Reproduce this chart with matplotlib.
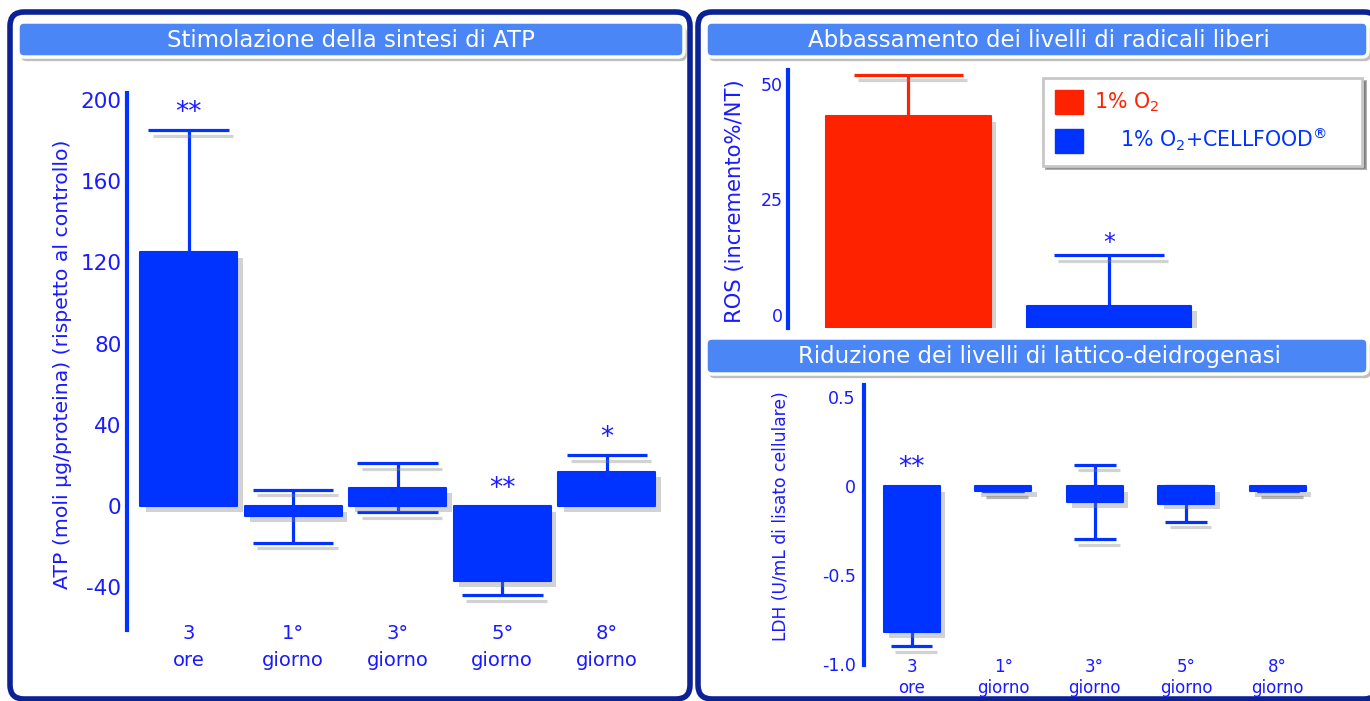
import matplotlib
matplotlib.use("Agg")
import matplotlib.pyplot as plt
import matplotlib.patheffects as pe
from matplotlib.patches import FancyBboxPatch, Patch

plt.rcParams['font.family'] = ['DejaVu Sans']
plt.rcParams['axes.unicode_minus'] = False

# ---- data ----
atp_labels = ["3\nore", "1°\ngiorno", "3°\ngiorno", "5°\ngiorno", "8°\ngiorno"]
atp_values = [125, -5, 9, -37, 17]
atp_errors = [60, 13, 12, 7, 8]
atp_stars = ["**", "", "", "**", "*"]
atp_ticks = [200, 160, 120, 80, 40, 0, -40]

ros_labels = ["1% O$_2$", "    1% O$_2$+CELLFOOD$^{\\circledR}$"]
ros_values = [43, 2]
ros_errors = [9, 11]
ros_stars = ["", "*"]
ros_ticks = [50, 25, 0]

ldh_labels = ["3\nore", "1°\ngiorno", "3°\ngiorno", "5°\ngiorno", "8°\ngiorno"]
ldh_values = [-0.82, -0.03, -0.09, -0.1, -0.03]
ldh_errors = [0.08, 0, 0.21, 0.1, 0]
ldh_stars = ["**", "", "", "", ""]
ldh_ticks = [0.5, 0, -0.5, -1.0]
ldh_ticklabels = ["0.5", "0", "-0.5", "-1.0"]

BLUE = "#0033ff"
TXT = "#1a1aff"
RED = "#ff2200"
NAVY = "#0b2196"
BAR_TITLE = "#4a86f6"

W, H = 1370, 701
fig = plt.figure(figsize=(W / 100, H / 100), dpi=100)
fig.patch.set_facecolor("white")


def px(l, t, r, b):
    return [l / W, 1 - b / H, (r - l) / W, (b - t) / H]


# background layer with frames and title bars
bg = fig.add_axes([0, 0, 1, 1], zorder=0)
bg.set_xlim(0, W)
bg.set_ylim(H, 0)
bg.axis("off")

for l, r in [(10, 690), (698, 1378)]:
    bg.add_patch(FancyBboxPatch((l, 12), r - l, 687, boxstyle="round,pad=0,rounding_size=14",
                                fc="white", ec=NAVY, lw=4))

shadow = [pe.SimplePatchShadow(offset=(2, -3), shadow_rgbFace="gray", alpha=0.5), pe.Normal()]
titles = [((18, 22, 684, 57), "Stimolazione della sintesi di ATP", 351),
          ((706, 22, 1368, 57), "Abbassamento dei livelli di radicali liberi", 1039),
          ((706, 338, 1368, 374), "Riduzione dei livelli di lattico-deidrogenasi", 1039)]
for (l, t, r, b), txt, cx in titles:
    p = FancyBboxPatch((l, t), r - l, b - t, boxstyle="round,pad=0,rounding_size=6",
                       fc=BAR_TITLE, ec="white", lw=2.5)
    p.set_path_effects(shadow)
    bg.add_patch(p)
    bg.text(cx, (t + b) / 2 + 1, txt, color="white", fontsize=16.5, ha="center", va="center")

bar_fx = [pe.SimplePatchShadow(offset=(4, -4), shadow_rgbFace="gray", alpha=0.35), pe.Normal()]
line_fx = [pe.SimpleLineShadow(offset=(3, -4), shadow_color="gray", alpha=0.35), pe.Normal()]


def style_axes(ax, tick_size):
    ax.patch.set_alpha(0)
    for s in ["top", "right", "bottom"]:
        ax.spines[s].set_visible(False)
    ax.spines["left"].set_color(BLUE)
    ax.spines["left"].set_linewidth(3)
    ax.spines["left"].set_path_effects(bar_fx)
    ax.tick_params(axis="both", length=0, colors=TXT, labelsize=tick_size)


def add_errorbars(ax, x, vals, errs, color, capsize):
    eb = ax.errorbar(x, vals, yerr=errs, fmt="none", ecolor=color, elinewidth=2.3,
                     capsize=capsize, capthick=2.3, zorder=2)
    for c in eb[1]:
        c.set_path_effects(line_fx)


# ---- ATP panel ----
ax1 = fig.add_axes(px(127, 93, 680, 630), zorder=1)
x1 = list(range(len(atp_values)))
add_errorbars(ax1, x1, atp_values, atp_errors, BLUE, 29)
bars = ax1.bar(x1, atp_values, width=0.93, color=BLUE, ec=BLUE, lw=1.5, joinstyle="round", zorder=3)
for b in bars:
    b.set_path_effects(bar_fx)
ax1.set_xlim(-0.59, 4.7)
ax1.set_ylim(-61, 203.4)
ax1.set_yticks(atp_ticks)
ax1.set_xticks(x1)
ax1.set_xticklabels(atp_labels)
style_axes(ax1, 15.5)
ax1.tick_params(axis="x", labelsize=14, pad=-4)
ax1.tick_params(axis="y", pad=4)
for t in ax1.get_xticklabels():
    t.set_linespacing(1.5)
ax1.set_ylabel("ATP (moli \u03bcg/proteina) (rispetto al controllo)", color=TXT, fontsize=14.7)
ax1.yaxis.set_label_coords(-0.0995, 0.495)
for xi, v, e, s in zip(x1, atp_values, atp_errors, atp_stars):
    if s:
        top = max(v + e, v, 0)
        ax1.text(xi, top + 5, s, ha="center", va="baseline", fontsize=19, color=TXT, zorder=4)

# ---- ROS panel ----
ax2 = fig.add_axes(px(788, 70, 1340, 328), zorder=1)
x2 = list(range(len(ros_values)))
ros_colors = [RED, BLUE]
ros_floor = -2.8
for xi, v, e, c in zip(x2, ros_values, ros_errors, ros_colors):
    add_errorbars(ax2, [xi], [v], [e], c, 39.5)
bars = ax2.bar(x2, [v - ros_floor for v in ros_values], bottom=ros_floor, width=0.82,
               color=ros_colors, ec=ros_colors, lw=1.5, joinstyle="round", zorder=3)
for b in bars:
    b.set_path_effects(bar_fx)
ax2.set_xlim(-0.6, 2.15)
ax2.set_ylim(ros_floor, 53)
ax2.set_yticks(ros_ticks)
ax2.set_xticks([])
style_axes(ax2, 12.5)
ax2.set_ylabel("ROS (incremento%/NT)", color=TXT, fontsize=15.2)
ax2.yaxis.set_label_coords(-0.078, 0.49)
for xi, v, e, s in zip(x2, ros_values, ros_errors, ros_stars):
    if s:
        ax2.text(xi, v + e + 1, s, ha="center", va="baseline", fontsize=17, color=TXT, zorder=4)
leg = ax2.legend(handles=[Patch(fc=c, ec=c) for c in ros_colors], labels=ros_labels,
                 loc="upper left", bbox_to_anchor=(1043 / W, 1 - 165 / H, 319 / W, 87 / H),
                 bbox_transform=fig.transFigure, mode="expand", borderaxespad=0, fontsize=14.8,
                 handlelength=1.37, handleheight=1.37, handletextpad=0.5, labelspacing=0.6,
                 borderpad=0.6, fancybox=False, shadow=True, framealpha=1)
leg.get_frame().set_edgecolor("#c8c8c8")
leg.get_frame().set_linewidth(2)
for t, c in zip(leg.get_texts(), ros_colors):
    t.set_color(c)

# ---- LDH panel ----
ax3 = fig.add_axes(px(864, 385, 1340, 665), zorder=1)
x3 = list(range(len(ldh_values)))
add_errorbars(ax3, x3, ldh_values, ldh_errors, BLUE, 15)
bars = ax3.bar(x3, ldh_values, width=0.61, color=BLUE, ec=BLUE, lw=1.5, joinstyle="round", zorder=3)
for b in bars:
    b.set_path_effects(bar_fx)
ax3.set_xlim(-0.52, 4.68)
ax3.set_ylim(-1.005, 0.567)
ax3.set_yticks(ldh_ticks)
ax3.set_yticklabels(ldh_ticklabels)
ax3.set_xticks(x3)
ax3.set_xticklabels(ldh_labels)
style_axes(ax3, 12.5)
ax3.tick_params(axis="x", labelsize=12, pad=-5)
ax3.tick_params(axis="y", pad=6)
for t in ax3.get_xticklabels():
    t.set_linespacing(1.2)
ax3.set_ylabel("LDH (U/mL di lisato cellulare)", color=TXT, fontsize=12.3)
ax3.yaxis.set_label_coords(-0.155, 0.53)
for xi, v, e, s in zip(x3, ldh_values, ldh_errors, ldh_stars):
    if s:
        ax3.text(xi, 0.06, s, ha="center", va="baseline", fontsize=19, color=TXT, zorder=4)

fig.savefig("out.png", dpi=100)
